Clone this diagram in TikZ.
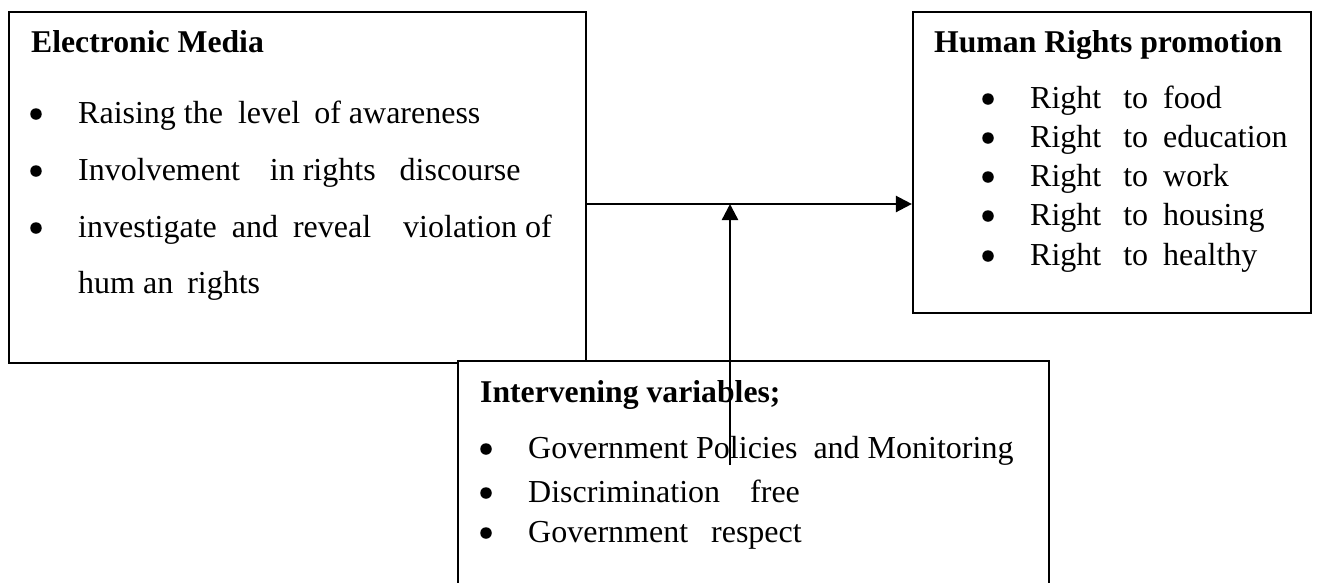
\documentclass[tikz,border=0pt]{standalone}
\usepackage{fontspec}
\setmainfont{Liberation Serif}
\usetikzlibrary{arrows.meta}
\begin{document}
\begin{tikzpicture}[x=1pt,y=-1pt,
  box/.style={draw=black, line width=2.2pt, fill=white, inner sep=0pt},
  txt/.style={anchor=base west, inner sep=0pt, font=\fontsize{32}{38}\selectfont},
  head/.style={anchor=base west, inner sep=0pt, font=\fontsize{31.7}{38}\selectfont\bfseries},
  conn/.style={line width=2.4pt, -{Triangle[length=16pt,width=16pt]}},
  dot/.style={circle, fill=black, inner sep=0pt, minimum size=11.5pt}]
\clip (0,0) rectangle (1317,582);
\fill[white] (0,0) rectangle (1317,582);

% boxes
\node[box, minimum width=577, minimum height=351] (L) at (297.5,187.5) {};
\node[box, minimum width=398, minimum height=301] (R) at (1112,162.5) {};

% left box text
\node[head] (Lh) at (31,52) {Electronic Media};
\node[dot] (Lb1) at (36,114) {};
\node[dot] (Lb2) at (36,171) {};
\node[dot] (Lb3) at (36,228) {};
\node[txt] (Lt1) at (78,123) {Raising the\hspace{15pt}level\hspace{14pt}of awareness};
\node[txt] (Lt2) at (78,180) {Involvement\hspace{30pt}in rights\hspace{24pt}discourse};
\node[txt] (Lt3) at (78,237) {investigate\hspace{15pt}and\hspace{15pt}reveal\hspace{32pt}violation of};
\node[txt] (Lt4) at (78,293) {hum an\hspace{14pt}rights};

% right box text
\node[head] (Rh) at (934,52) {Human Rights promotion};
\foreach \i/\y/\w in {1/108/food,2/147/education,3/186/work,4/225/housing,5/265/healthy}{
  \node[dot] (Rb\i) at (988,\y-9) {};
  \node[txt] (Rt\i) at (1030,\y) {Right\hspace{22pt}to\hspace{15pt}\w};
}

% bottom box
\node[box, minimum width=591, minimum height=279] (B) at (753.5,500.5) {};
\node[head] (Bh) at (480,402) {Intervening variables;};
\node[dot] (Bb1) at (486,449) {};
\node[dot] (Bb2) at (486,493) {};
\node[dot] (Bb3) at (486,533) {};
\node[txt] (Bt1) at (528,458) {Government Policies\hspace{16pt}and Monitoring};
\node[txt] (Bt2) at (528,502) {Discrimination\hspace{30pt}free};
\node[txt] (Bt3) at (528,542) {Government\hspace{23pt}respect};

% connectors
\coordinate (j) at (730,204);
\coordinate (vs) at (730,465);
\draw[conn] (L.east |- j) -- (R.west |- j);
\draw[conn] (vs) -- (j);
\end{tikzpicture}
\end{document}
